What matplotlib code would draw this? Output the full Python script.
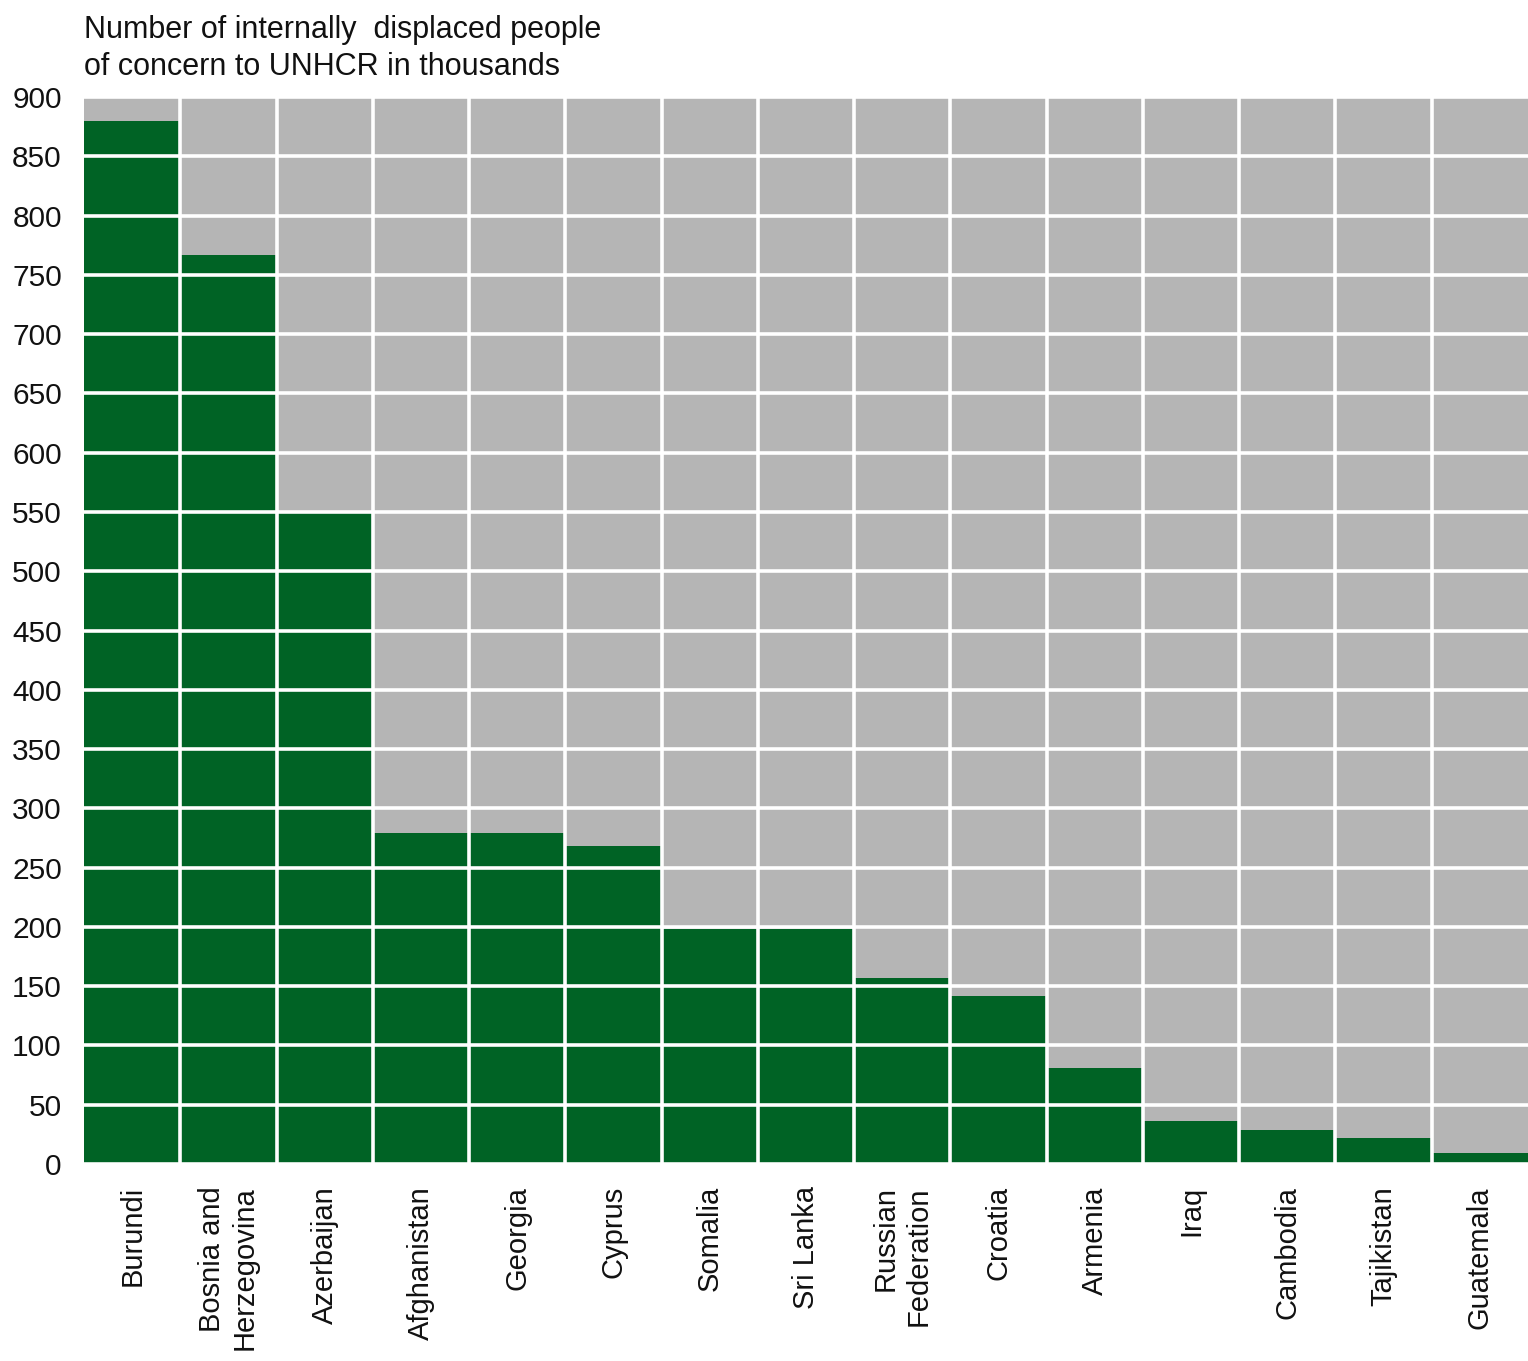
import matplotlib
matplotlib.use("Agg")
import matplotlib.pyplot as plt
import numpy as np

countries = [
    "Burundi", "Bosnia and\nHerzegovina", "Azerbaijan", "Afghanistan", "Georgia",
    "Cyprus", "Somalia", "Sri Lanka", "Russian\nFederation", "Croatia",
    "Armenia", "Iraq", "Cambodia", "Tajikistan", "Guatemala",
]
displaced_thousands = [880, 767, 549, 279, 279, 268, 198, 198, 157, 142, 81, 36, 29, 22, 9]
y_ticks = list(range(0, 901, 50))

plt.rcParams["font.family"] = ["Liberation Sans", "DejaVu Sans"]

W, H = 1528, 1361
fig = plt.figure(figsize=(W / 100, H / 100), dpi=100)
ax = fig.add_axes([84 / W, 1 - 1164 / H, 1 - 84 / W, (1164 - 97) / H])

x = np.arange(len(countries))
ax.set_facecolor("#b5b5b5")
ax.bar(x, displaced_thousands, width=1.0, color="#006325", linewidth=0, zorder=1)

ax.set_xlim(-0.5, len(countries) - 0.5)
ax.set_ylim(0, 900)

ax.set_yticks(y_ticks)
ax.set_yticklabels([str(v) for v in y_ticks], fontsize=21.5)
ax.tick_params(axis="y", length=0, pad=16, colors="#111111")

ax.set_xticks(x)
ax.set_xticklabels(countries, rotation=90, fontsize=21, va="top", ha="center",
                   multialignment="right")
ax.tick_params(axis="x", length=0, pad=16, colors="#111111")

# white separators between columns and along the value gridlines
ax.set_xticks(np.arange(0.5, len(countries) - 0.5, 1.0), minor=True)
ax.tick_params(axis="x", which="minor", length=0)
ax.set_axisbelow(False)
ax.grid(axis="y", which="major", color="white", linewidth=2.6)
ax.grid(axis="x", which="minor", color="white", linewidth=2.6)

for s in ax.spines.values():
    s.set_visible(False)

fig.text(84 / W, 1 - 15 / H,
         "Number of internally  displaced people\nof concern to UNHCR in thousands",
         ha="left", va="top", fontsize=22, color="#111111", linespacing=1.3)

fig.savefig("out.png", dpi=100, facecolor="white")
